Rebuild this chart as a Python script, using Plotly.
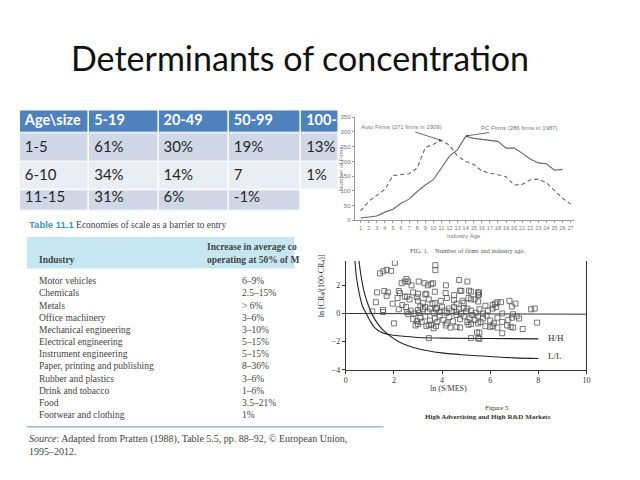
import plotly.graph_objects as go

# ---------------- data ----------------
TITLE = "Determinants of concentration"

TOP_HEADER = ["Age\\size", "5-19", "20-49", "50-99", "100-"]
AGE_GROUPS = ["1-5", "6-10", "11-15"]
SIZE_5_19 = ["61%", "34%", "31%"]
SIZE_20_49 = ["30%", "14%", "6%"]
SIZE_50_99 = ["19%", "7", "-1%"]
SIZE_100 = ["13%", "1%", ""]

AGES = list(range(1, 28))
AUTO_FIRMS = [32, 65, 85, 105, 152, 155, 158, 178, 247, 258, 271, 255, 218, 200,
              190, 168, 160, 155, 148, 120, 122, 138, 140, 128, 100, 75, 55]
PC_AGES = list(range(1, 27))
PC_FIRMS = [8, 12, 15, 28, 38, 58, 72, 98, 120, 138, 178, 218, 240, 285, 278,
            275, 272, 268, 245, 245, 228, 208, 195, 192, 170, 173]

INDUSTRIES = ["Motor vehicles", "Chemicals", "Metals", "Office machinery",
              "Mechanical engineering", "Electrical engineering",
              "Instrument engineering", "Paper, printing and publishing",
              "Rubber and plastics", "Drink and tobacco", "Food",
              "Footwear and clothing"]
COST_INCREASE = ["6–9%", "2.5–15%", "> 6%", "3–6%", "3–10%", "5–15%", "5–15%",
                 "8–36%", "3–6%", "1–6%", "3.5–21%", "1%"]

SCAT_X = [2.04, 1.42, 1.56, 1.70, 1.88, 3.72, 3.72,
          2.52, 2.45, 2.59, 2.32, 2.73, 3.03, 3.27, 3.41, 3.55, 3.62,
          4.16, 4.71, 5.05, 4.75, 5.12, 5.53, 5.53,
          1.30, 1.60, 1.75, 2.20, 2.25, 2.55, 2.80, 3.00, 3.30, 3.35, 3.70, 4.15,
          4.50, 4.80, 5.20, 5.50, 5.50, 5.20,
          1.25, 1.70, 1.95, 2.15, 2.35, 2.45, 2.65, 2.95, 3.00, 3.20, 3.45, 3.60,
          3.70, 3.95, 4.20, 4.50, 4.60, 4.85, 4.90, 5.10, 5.35, 5.50, 5.80, 6.10,
          6.20, 6.30, 6.45, 6.80, 6.90, 7.05, 7.70, 7.85,
          1.10, 1.55, 1.55, 2.20, 2.50, 2.55, 2.70, 2.85, 3.00, 3.05, 3.10, 3.20,
          3.30, 3.40, 3.50, 3.65, 3.75, 3.80, 3.90, 4.00, 4.10, 4.20, 4.30, 4.40,
          4.50, 4.60, 4.70, 4.80, 4.90, 5.00, 5.05, 5.20, 5.40, 5.55, 5.70, 5.90,
          6.10, 6.25, 6.50, 6.95,
          2.00, 2.60, 2.80, 2.95, 3.10, 3.15, 3.30, 3.50, 3.55, 3.70, 3.80, 3.90,
          4.05, 4.20, 4.30, 4.45, 4.60, 4.75, 4.90, 5.05, 5.15, 5.25, 5.35, 5.50,
          5.60, 5.70, 5.85, 6.00, 6.15, 6.30, 6.50, 6.75, 6.90, 7.10, 7.20, 7.95,
          2.90, 3.00, 3.35, 3.45, 3.65, 3.75, 4.15, 4.35, 4.60, 4.75, 5.10, 5.20,
          5.45, 5.55, 5.80, 6.00, 6.30, 6.50, 6.70, 6.85, 6.95, 7.35, 6.10, 5.50,
          3.45, 5.20, 5.50, 5.55]
SCAT_Y = [3.60, 2.85, 3.00, 3.10, 3.03, 3.43, 3.08,
          2.45, 2.27, 2.27, 2.15, 2.00, 2.27, 2.15, 2.00, 2.08, 2.15,
          2.00, 2.38, 2.27, 1.62, 1.62, 1.50, 1.34,
          1.50, 1.60, 1.50, 1.60, 1.45, 1.20, 1.50, 1.40, 1.35, 1.40, 1.55, 1.45,
          1.30, 1.60, 1.55, 1.50, 1.30, 1.00,
          0.80, 1.25, 0.70, 1.10, 0.60, 1.20, 1.00, 1.15, 0.90, 0.75, 1.00, 0.70,
          0.75, 0.90, 1.10, 0.95, 0.70, 0.90, 0.75, 1.10, 1.00, 0.85, 0.55, 0.60,
          0.70, 0.80, 0.80, 0.90, 0.50, 0.70, 0.30, 0.35,
          0.15, 0.25, 0.10, 0.30, 0.45, 0.10, 0.20, 0.00, 0.25, 0.05, 0.50, 0.30,
          0.45, 0.15, 0.35, 0.05, 0.30, 0.40, 0.10, 0.45, 0.20, 0.05, 0.35, 0.20,
          0.45, 0.10, 0.30, 0.00, 0.40, 0.15, 0.35, 0.20, 0.05, 0.30, 0.00, 0.20,
          0.35, 0.45, 0.00, -0.05,
          -0.70, -0.05, -0.40, -0.55, -0.30, -0.60, -0.20, -0.50, -0.80, -0.35, -0.60, -0.15,
          -0.45, -0.70, -0.25, -0.55, -0.10, -0.40, -0.20, -0.60, -0.35, -0.10, -0.45, -0.20,
          -0.60, -0.35, -0.15, -0.50, -0.70, -0.30, -0.60, -0.45, -0.30, -0.20, -0.35, -0.65,
          -0.85, -0.75, -0.90, -0.80, -1.05, -0.90, -0.85, -1.00, -0.95, -1.00, -0.80, -0.75,
          -1.35, -1.35, -0.90, -0.95, -1.00, -1.40, -0.85, -0.95, -1.00, -1.10, -0.90, -0.70,
          -1.75, -1.75, -1.75, -1.80]

HH_X = [0.38, 0.45, 0.55, 0.70, 0.85, 1.00, 1.20, 1.50, 2.00, 3.00, 4.00, 6.00, 8.00]
HH_Y = [3.75, 2.50, 1.50, 0.50, 0.00, -0.50, -1.00, -1.35, -1.55, -1.70, -1.75, -1.78, -1.80]
LL_X = [0.55, 0.65, 0.80, 1.00, 1.20, 1.50, 1.80, 2.20, 3.00, 4.00, 5.00, 6.00, 7.00, 8.00]
LL_Y = [3.75, 2.50, 1.30, 0.30, -0.40, -1.10, -1.55, -2.00, -2.50, -2.80, -2.95, -3.05, -3.15, -3.20]
BASE_X = [0, 10]
BASE_Y = [0, -0.05]

# ---------------- layout helpers (page has an 8px body margin) ----------------
OFF = 8
W, H = 640 - OFF, 480 - OFF


def fx(p):
    return (p - OFF) / W


def fy(p):
    return 1 - (p - OFF) / H


fig = go.Figure()

# ---------------- top table (cells as a heatmap, text as labels) ----------------
COL_EDGES = [0, 70, 140, 211, 284, 322]       # pixel widths of the columns
ROW_EDGES = [0, 23.5, 52.8, 81.8, 103]        # header, row1, row2, row3 (cut)
columns = [AGE_GROUPS, SIZE_5_19, SIZE_20_49, SIZE_50_99, SIZE_100]
fill_z = [[0] * 5, [1] * 5, [2] * 5, [1, 1, 1, 1, 3]]
fig.add_trace(go.Heatmap(
    x=COL_EDGES, y=ROW_EDGES, z=fill_z, zmin=0, zmax=3,
    colorscale=[[0, "#4F81BD"], [0.17, "#4F81BD"], [0.17, "#D0D8E8"], [0.5, "#D0D8E8"],
                [0.5, "#E9EDF4"], [0.83, "#E9EDF4"], [0.83, "#FFFFFF"], [1, "#FFFFFF"]],
    showscale=False, xgap=1.5, ygap=1.5, hoverinfo="skip",
    xaxis="x3", yaxis="y3"))
row_mid = [(ROW_EDGES[i] + ROW_EDGES[i + 1]) / 2 for i in range(4)]
fig.add_trace(go.Scatter(
    x=[e + 5 for e in COL_EDGES[:5]], y=[row_mid[0]] * 5,
    text=[f"<b>{h}</b>" for h in TOP_HEADER], mode="text", textposition="middle right",
    textfont=dict(family="Lato", size=14.5, color="white"),
    xaxis="x3", yaxis="y3", showlegend=False, hoverinfo="skip", cliponaxis=True))
bx, by, bt = [], [], []
for c, col in enumerate(columns):
    for r, val in enumerate(col):
        if not val:
            continue
        bx.append(COL_EDGES[c] + 5)
        by.append(row_mid[r + 1] - (3 if r == 2 else 0))
        bt.append(val)
fig.add_trace(go.Scatter(
    x=bx, y=by, text=bt, mode="text", textposition="middle right",
    textfont=dict(family="Lato", size=15, color="#262626"),
    xaxis="x3", yaxis="y3", showlegend=False, hoverinfo="skip", cliponaxis=True))

# ---------------- line chart ----------------
fig.add_trace(go.Scatter(x=AGES, y=AUTO_FIRMS, mode="lines", xaxis="x", yaxis="y",
                         line=dict(color="#666", width=1.1, dash="4px,3px"),
                         showlegend=False))
fig.add_trace(go.Scatter(x=PC_AGES, y=PC_FIRMS, mode="lines", xaxis="x", yaxis="y",
                         line=dict(color="#666", width=1.1), showlegend=False))

# ---------------- scatter chart ----------------
fig.add_trace(go.Scatter(x=BASE_X, y=BASE_Y, mode="lines", xaxis="x2", yaxis="y2",
                         line=dict(color="#333", width=1), showlegend=False))
fig.add_trace(go.Scatter(x=HH_X, y=HH_Y, mode="lines", xaxis="x2", yaxis="y2",
                         line=dict(color="#222", width=1.1, shape="spline"), showlegend=False))
fig.add_trace(go.Scatter(x=LL_X, y=LL_Y, mode="lines", xaxis="x2", yaxis="y2",
                         line=dict(color="#222", width=1.1, shape="spline"), showlegend=False))
fig.add_trace(go.Scatter(x=SCAT_X, y=SCAT_Y, mode="markers", xaxis="x2", yaxis="y2",
                         marker=dict(symbol="square-open", size=5, color="#555",
                                     line=dict(width=0.8)),
                         showlegend=False))

small = dict(family="Liberation Sans", size=6, color="#777")
serif = "Liberation Serif"

fig.update_layout(
    width=W, height=H, autosize=False,
    margin=dict(l=0, r=0, t=0, b=0),
    paper_bgcolor="white", plot_bgcolor="white",
    xaxis=dict(domain=[fx(356), fx(577)], range=[0.26, 27.37],
               tickvals=AGES, ticks="outside", ticklen=2, tickcolor="#999",
               tickangle=0, showgrid=False, zeroline=False, showline=True,
               linecolor="#999", linewidth=1,
               tickfont=dict(family="Liberation Sans", size=5.5, color="#777")),
    yaxis=dict(domain=[fy(221), fy(116)], range=[0, 350], dtick=50,
               ticks="outside", ticklen=2, tickcolor="#999",
               showgrid=False, zeroline=False, showline=True, linecolor="#999",
               linewidth=1, tickfont=small),
    xaxis2=dict(domain=[fx(347), fx(590)], range=[0, 10], dtick=2,
                ticks="outside", ticklen=3, tickcolor="#333",
                showgrid=False, zeroline=False, showline=True, linecolor="#333",
                linewidth=1, tickfont=dict(family=serif, size=8, color="#333"),
                anchor="y2"),
    yaxis2=dict(domain=[fy(373), fy(262)], range=[-4, 3.75], tickvals=[-4, -2, 0, 2],
                ticks="outside", ticklen=3, tickcolor="#333",
                showgrid=False, zeroline=False, showline=True, mirror=True,
                linecolor="#333", linewidth=1,
                tickfont=dict(family=serif, size=8, color="#333"), anchor="x2"),
    xaxis3=dict(domain=[fx(18), fx(340)], range=[0, 322], visible=False,
                fixedrange=True, anchor="y3"),
    yaxis3=dict(domain=[fy(212), fy(109)], range=[103, 0], visible=False,
                fixedrange=True, anchor="x3"),
)


def note(text, x, y, size=9.5, family=serif, color="#444", xanchor="left", **kw):
    return dict(text=text, x=fx(x), y=fy(y), xref="paper", yref="paper",
                showarrow=False, xanchor=xanchor, yanchor="middle",
                font=dict(family=family, size=size, color=color), **kw)


ann = []
ann.append(note(TITLE, 301, 55, size=34, family="Lato", color="#111", xanchor="center"))

# line chart texts
ann.append(dict(text="Auto Firms (271 firms in 1909)", x=11, y=271, xref="x", yref="y",
                ax=-40, ay=-13, showarrow=True, arrowhead=2, arrowsize=0.6,
                arrowwidth=0.8, arrowcolor="#444", font=small))
ann.append(dict(text="PC Firms (286 firms in 1987)", x=14, y=286, xref="x", yref="y",
                ax=54, ay=-8, showarrow=True, arrowhead=2, arrowsize=0.6,
                arrowwidth=0.8, arrowcolor="#444", font=small))
ann.append(note("Number of Firms", 342, 168, size=6, family="Liberation Sans",
                color="#777", xanchor="center", textangle=-90))
ann.append(note("Industry Age", 466, 237, size=6, family="Liberation Sans",
                color="#777", xanchor="center"))
ann.append(note("FIG. 1.    Number of firms and industry age.", 470, 252, size=6.5,
                color="#555", xanchor="center"))

# scatter texts
ann.append(dict(text="H/H", x=8.3, y=-1.75, xref="x2", yref="y2", showarrow=False,
                xanchor="left", yanchor="middle",
                font=dict(family=serif, size=9, color="#333")))
ann.append(dict(text="L/L", x=8.3, y=-3.05, xref="x2", yref="y2", showarrow=False,
                xanchor="left", yanchor="middle",
                font=dict(family=serif, size=9, color="#333")))
ann.append(note("ln [CR<sub>4</sub>/(100-CR<sub>4</sub>)]", 323, 288, size=8,
                color="#333", xanchor="center", textangle=-90))
ann.append(note("ln (S/MES)", 451, 392, size=8, color="#333", xanchor="center"))
ann.append(note("Figure 5", 500, 412, size=7, color="#333", xanchor="center"))
ann.append(note("<b>High Advertising and High R&D Markets</b>", 491, 421, size=7,
                color="#333", xanchor="center"))

# Table 11.1
ann.append(note("<b><span style='color:#3A9AB0;font-family:Liberation Sans'>Table 11.1</span></b> Economies of scale as a barrier to entry",
                25, 225))
ann.append(note("<b>Industry</b>", 35, 261))
ann.append(note("<b>Increase in average co</b>", 205, 248))
ann.append(note("<b>operating at 50% of M</b>", 205, 261))
for i, (ind, val) in enumerate(zip(INDUSTRIES, COST_INCREASE)):
    yy = 283 + i * 12.36
    ann.append(note(ind, 35, yy))
    ann.append(note(val, 240, yy))
ann.append(note("<i>Source</i>: Adapted from Pratten (1988), Table 5.5, pp. 88–92, © European Union,",
                25, 443, size=10))
ann.append(note("1995–2012.", 25, 456, size=10))

fig.update_layout(annotations=ann)

fig.update_layout(shapes=[
    dict(type="rect", xref="paper", yref="paper", x0=fx(25), x1=fx(295),
         y0=fy(270), y1=fy(238), fillcolor="#C6E7F1", line=dict(width=0), layer="below"),
    dict(type="line", xref="paper", yref="paper", x0=fx(25), x1=fx(385),
         y0=fy(431), y1=fy(431), line=dict(color="#9BBACB", width=1.5)),
])

fig.write_html("out.html")
